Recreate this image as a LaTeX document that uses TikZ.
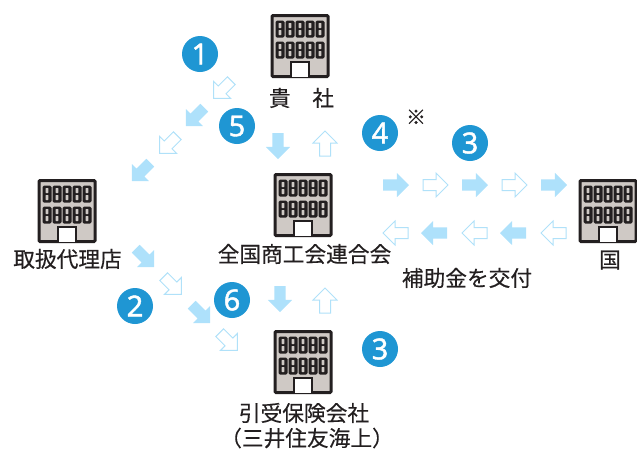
\documentclass[tikz,border=0pt]{standalone}
\usepackage{fontspec}
\setmainfont{Noto Sans CJK JP}[FakeBold=0.3]
\newfontfamily\numfont{Noto Sans}[FakeBold=1.5]
\usepackage{tikz}
\usetikzlibrary{shapes.arrows}
\definecolor{inkdark}{HTML}{231F20}
\definecolor{wallgrey}{HTML}{CFC9C5}
\definecolor{badgeblue}{HTML}{1F96D3}
\definecolor{flowblue}{HTML}{AEE1FB}
\definecolor{flowline}{HTML}{B0E1F9}
\tikzstyle{flowon} = [single arrow, 
anchor=tail,
minimum height=26pt, 
text height=10.7pt,
text depth=0pt,
text width=0pt,
single arrow head extend=6.5pt,
single arrow tip angle=90,
inner sep=0pt,
outer sep=0pt,
fill=flowblue]
\tikzstyle{flowoff} = [flowon, 
fill=white, 
draw=flowline, 
line width=1pt,
miter limit=10,
minimum height=25pt, 
text height=10pt]
\tikzstyle{badge} = [circle, 
minimum size=36pt, 
inner sep=0pt,
text=white, 
fill=badgeblue,
font=\numfont\fontsize{29}{29}\selectfont]
\tikzstyle{caption} = [inner sep=0pt, 
text=inkdark, 
font=\fontsize{21.7}{24}\selectfont]
\tikzstyle{wall} = [rectangle, 
minimum width=56pt, 
minimum height=61pt, 
inner sep=0pt,
rounded corners=1pt,
draw=inkdark, 
line width=3pt, 
fill=wallgrey]
\tikzset{
  building/.pic={
    \node (-frame) [wall] {};
    \foreach \col in {-20,-10,0,10,20} {
      \foreach \row in {-17,4} {
        \fill [inkdark, rounded corners=1.5pt] (\col-4.5,\row-8.5) rectangle (\col+4.5,\row+8.5);
        \fill [wallgrey, rounded corners=0.5pt] (\col-1.4,\row-6) rectangle (\col+1.4,\row-1);
        \fill [wallgrey, rounded corners=0.5pt] (\col-1.4,\row+1) rectangle (\col+1.4,\row+6);
      }
    }
    \draw [draw=inkdark, line width=2.5pt, fill=white] (-9,30.5) -- (-9,16) -- (9,16) -- (9,30.5);
  }
}

\begin{document}
\begin{tikzpicture}[x=1pt, y=-1pt, node distance=39.5pt]
\useasboundingbox (0,0) rectangle (637,448);

\pic (guest) at (300,46) {building};
\pic (dealer) at (67,211) {building};
\pic (union) at (303,205) {building};
\pic (state) at (608,211) {building};
\pic (insurer) at (303,362) {building};

\node (guestname) [caption] at (301.5,98) {貴　社};
\node (dealername) [caption] at (67.5,259) {取扱代理店};
\node (unionname) [caption] at (304.5,254) {全国商工会連合会};
\node (statename) [caption] at (610,260) {国};
\node (grantname) [caption] at (467,278) {補助金を交付};
\node (insurername) [caption] at (304,413) {引受保険会社};
\node (insurernote) [caption, below of=insurername, node distance=25pt, xshift=3pt] {（三井住友海上）};
\node (note) [inner sep=0pt, text=inkdark, font=\fontsize{20}{20}\selectfont] at (416,117) {※};

\node (one) [badge] at (200,54) {1};
\node (two) [badge] at (135,306) {2};
\node (threeup) [badge] at (470,143) {3};
\node (threedown) [badge] at (380,349) {3};
\node (four) [badge] at (380,133) {4};
\node (five) [badge] at (237,126) {5};
\node (six) [badge] at (232,300) {6};

% to the dealer
\node (sw1) [flowoff, rotate=-135] at (231.3,80.7) {};
\node (sw2) [flowon, rotate=-135] at (204.3,107.7) {};
\node (sw3) [flowoff, rotate=-135] at (177.3,135.7) {};
\node (sw4) [flowon, rotate=-135] at (150.3,162.7) {};

% from the dealer
\node (se1) [flowon, rotate=-45] at (135.7,248.7) {};
\node (se2) [flowoff, rotate=-45] at (163.7,276.7) {};
\node (se3) [flowon, rotate=-45] at (191.7,304.7) {};
\node (se4) [flowoff, rotate=-45] at (219.7,332.7) {};

% guest and federation
\node (down1) [flowon, rotate=-90] at (278,133) {};
\node (up1) [flowoff, rotate=90] at (325,156) {};
\node (down2) [flowon, rotate=-90] at (280,286) {};
\node (up2) [flowoff, rotate=90] at (325,313) {};

% federation and state
\node (to1) [flowon] at (383,185) {};
\node (to2) [flowoff] at (423,185) {};
\node (to3) [flowon] at (462,185) {};
\node (to4) [flowoff] at (502,185) {};
\node (to5) [flowon] at (541,185) {};

\node (back1) [flowoff, rotate=180] at (566,233) {};
\node (back2) [flowon, rotate=180] at (526,233) {};
\node (back3) [flowoff, rotate=180] at (487,233) {};
\node (back4) [flowon, rotate=180] at (447,233) {};
\node (back5) [flowoff, rotate=180] at (408,233) {};
\end{tikzpicture}
\end{document}
